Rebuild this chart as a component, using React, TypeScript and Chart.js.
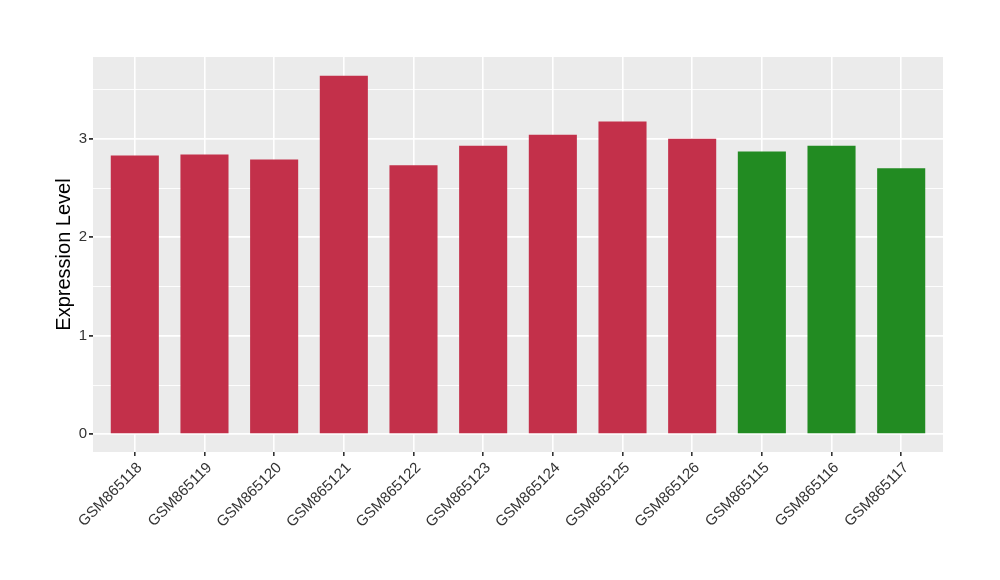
import React, { useEffect, useRef } from "react";
import { Chart, registerables } from "chart.js";

Chart.register(...registerables);

const samples = [
  "GSM865118", "GSM865119", "GSM865120", "GSM865121", "GSM865122", "GSM865123",
  "GSM865124", "GSM865125", "GSM865126", "GSM865115", "GSM865116", "GSM865117",
];
const values = [2.83, 2.84, 2.79, 3.64, 2.73, 2.93, 3.04, 3.175, 3.0, 2.87, 2.93, 2.7];
const groups = ["a", "a", "a", "a", "a", "a", "a", "a", "a", "b", "b", "b"];
const groupColors: Record<string, string> = { a: "#C3304A", b: "#228B22" };
const yTicks = [0, 0.5, 1, 1.5, 2, 2.5, 3, 3.5];
const yMin = -0.18;
const yMax = 3.83;

const panelBg = {
  id: "panelBg",
  beforeDraw(chart: any) {
    const { ctx, chartArea } = chart;
    ctx.save();
    ctx.fillStyle = "#EBEBEB";
    ctx.fillRect(chartArea.left, chartArea.top, chartArea.right - chartArea.left, chartArea.bottom - chartArea.top);
    ctx.restore();
  },
};

export default function App() {
  const ref = useRef<HTMLCanvasElement>(null);
  useEffect(() => {
    if (!ref.current) return;
    const chart = new Chart(ref.current, {
      type: "bar",
      data: {
        datasets: [
          {
            data: values.map((v, i) => ({ x: i + 1, y: v })),
            backgroundColor: groups.map((g) => groupColors[g]),
            barPercentage: 0.69,
            categoryPercentage: 1,
            borderWidth: 0,
          },
        ],
      },
      options: {
        animation: false,
        responsive: false,
        layout: { padding: { top: 57, right: 57, left: 0, bottom: 0 } },
        plugins: { legend: { display: false }, tooltip: { enabled: false } },
        scales: {
          x: {
            type: "linear",
            min: 0.4,
            max: 12.6,
            offset: false,
            afterBuildTicks: (scale: any) => {
              scale.ticks = samples.map((_, i) => ({ value: i + 1 }));
            },
            afterFit: (scale: any) => {
              scale.height = 128;
            },
            border: { display: false },
            grid: { offset: false, color: "#FFFFFF", lineWidth: 1.6, tickColor: "#333333", tickLength: 4 },
            ticks: {
              autoSkip: false,
              maxRotation: 45,
              minRotation: 45,
              padding: 3,
              labelOffset: 5,
              color: "#333333",
              font: { family: "Liberation Sans", size: 15 },
              callback: (v: any) => samples[Math.round(v) - 1] ?? "",
            },
          },
          y: {
            min: yMin,
            max: yMax,
            afterBuildTicks: (scale: any) => {
              scale.ticks = yTicks.map((v) => ({ value: v }));
            },
            afterFit: (scale: any) => {
              scale.width = 93;
            },
            border: { display: false },
            grid: {
              color: "#FFFFFF",
              lineWidth: (c: any) => (c.tick && c.tick.value % 1 === 0 ? 1.8 : 0.9),
              tickColor: (c: any) => (c.tick && c.tick.value % 1 === 0 ? "#333333" : "rgba(0,0,0,0)"),
              tickLength: 4,
            },
            ticks: {
              padding: 2,
              color: "#333333",
              font: { family: "Liberation Sans", size: 15 },
              callback: (v: any) => (Number(v) % 1 === 0 ? String(v) : ""),
            },
            title: {
              display: true,
              text: "Expression Level",
              color: "#000000",
              font: { family: "Liberation Sans", size: 20 },
              padding: { top: 52, bottom: 0 },
            },
          },
        },
      },
      plugins: [panelBg],
    });
    return () => chart.destroy();
  }, []);
  return (
    <div style={{ position: "absolute", left: 0, top: 0, width: 1000, height: 580, background: "#fff" }}>
      <canvas ref={ref} width={1000} height={580} style={{ width: 1000, height: 580 }} />
    </div>
  );
}
